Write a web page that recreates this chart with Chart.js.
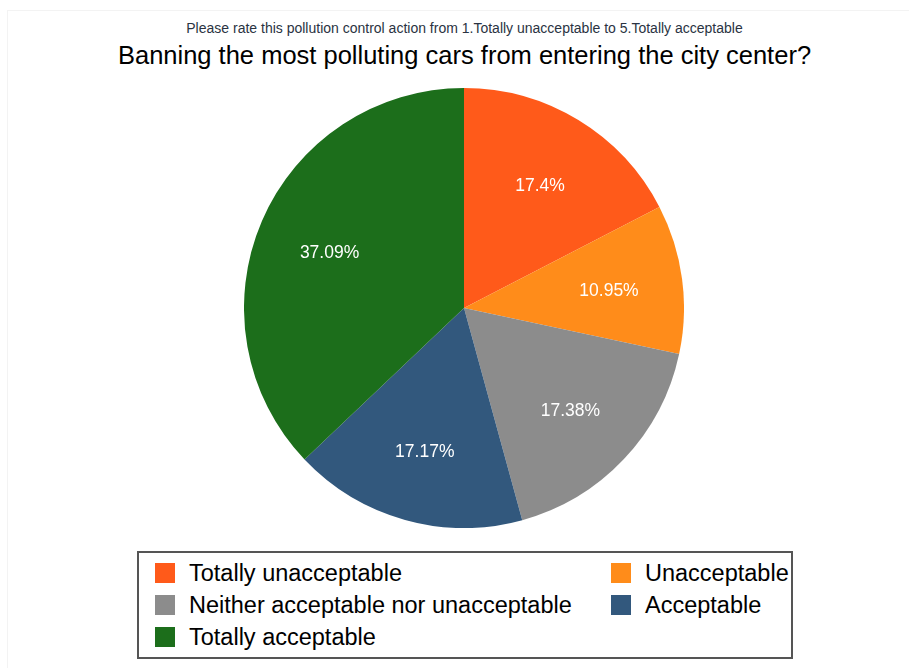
<!DOCTYPE html>
<html>
<head>
<meta charset="utf-8">
<script src="https://cdn.jsdelivr.net/npm/chart.js@4/dist/chart.umd.min.js"></script>
<style>
  html, body { margin: 0; padding: 0; background: #fff; }
  body { width: 909px; height: 668px; position: relative; overflow: hidden; font-family: "Liberation Sans", Arial, sans-serif; }
  #frame { position: absolute; left: 7px; top: 10px; width: 920px; height: 680px; border: 1px solid #f3f3f3; box-sizing: border-box; }
  #subtitle { position: absolute; left: 0; width: 929px; top: 20px; text-align: center; font-size: 14px; color: #2a3342; white-space: nowrap; }
  #title { position: absolute; left: 0; width: 929px; top: 41px; text-align: center; font-size: 25.5px; color: #000; white-space: nowrap; }
  #chartBox { position: absolute; left: 244px; top: 88px; width: 440px; height: 440px; }
  #legend { position: absolute; left: 137px; top: 551px; width: 656px; height: 108px; border: 2px solid #555; box-sizing: border-box; }
  .item { position: absolute; font-size: 23.5px; color: #000; white-space: nowrap; line-height: 26px; }
  .sw { position: absolute; width: 20px; height: 20px; top: 3px; left: 0; }
  .lbl { position: absolute; left: 34px; top: 0; }
</style>
</head>
<body>
<div id="frame"></div>
<div id="subtitle"></div>
<div id="title"></div>
<div id="chartBox"><canvas id="c"></canvas></div>
<div id="legend"></div>
<script>
const subtitleText = "Please rate this pollution control action from 1.Totally unacceptable to 5.Totally acceptable";
const titleText = "Banning the most polluting cars from entering the city center?";
const categories = ["Totally unacceptable", "Unacceptable", "Neither acceptable nor unacceptable", "Acceptable", "Totally acceptable"];
const values = [17.4, 10.95, 17.38, 17.17, 37.09];
const valueLabels = ["17.4%", "10.95%", "17.38%", "17.17%", "37.09%"];
const colors = ["#ff5a1a", "#ff8c1a", "#8c8c8c", "#32587d", "#1c6e1b"];

document.getElementById('subtitle').textContent = subtitleText;
document.getElementById('title').textContent = titleText;

// legend (two columns)
const legendPos = [[16, 7], [472, 7], [16, 39], [472, 39], [16, 71]];
const leg = document.getElementById('legend');
categories.forEach((c, i) => {
  const d = document.createElement('div');
  d.className = 'item';
  d.style.left = legendPos[i][0] + 'px';
  d.style.top = legendPos[i][1] + 'px';
  d.innerHTML = '<span class="sw" style="background:' + colors[i] + '"></span><span class="lbl"></span>';
  d.querySelector('.lbl').textContent = c;
  leg.appendChild(d);
});

const sliceLabels = {
  id: 'sliceLabels',
  afterDatasetsDraw(chart) {
    const ctx = chart.ctx;
    const meta = chart.getDatasetMeta(0);
    ctx.save();
    ctx.fillStyle = '#ffffff';
    ctx.font = '17.5px "Liberation Sans", Arial, sans-serif';
    ctx.textAlign = 'center';
    ctx.textBaseline = 'middle';
    meta.data.forEach((arc, i) => {
      const p = arc.getProps(['x', 'y', 'startAngle', 'endAngle', 'outerRadius'], true);
      const mid = (p.startAngle + p.endAngle) / 2;
      const r = p.outerRadius * 0.665;
      ctx.fillText(valueLabels[i], p.x + Math.cos(mid) * r, p.y + Math.sin(mid) * r + 3);
    });
    ctx.restore();
  }
};

new Chart(document.getElementById('c'), {
  type: 'pie',
  data: {
    labels: categories,
    datasets: [{ data: values, backgroundColor: colors, borderWidth: 0 }]
  },
  options: {
    responsive: true,
    maintainAspectRatio: false,
    animation: false,
    layout: { padding: 0 },
    plugins: { legend: { display: false }, tooltip: { enabled: false }, title: { display: false } }
  },
  plugins: [sliceLabels]
});
</script>
</body>
</html>
